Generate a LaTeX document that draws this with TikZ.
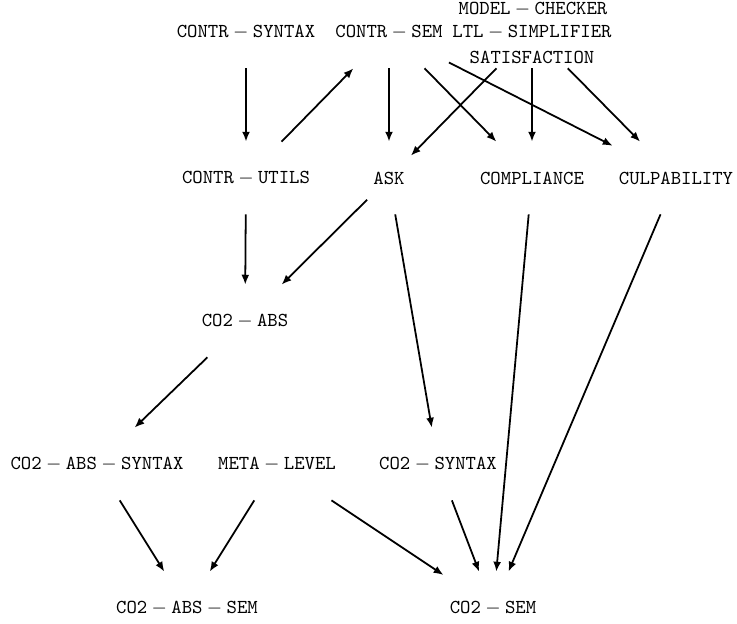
\documentclass[tikz,border=0pt]{standalone}
\usetikzlibrary{arrows.meta}
\begin{document}
\begin{tikzpicture}[x=0.506pt, y=-0.506pt,
    mod/.style={inner xsep=3pt, inner ysep=0pt, minimum height=36.4pt},
    dep/.style={-{Latex[length=5pt, width=4pt]}, line width=0.9pt}]
    \useasboundingbox (0,0) rectangle (737,624);

    \node[inner sep=0pt] (mcheck) at (533,9) {$\mathtt{MODEL-CHECKER}$};
    \node[inner sep=0pt] (ltl) at (532,32) {$\mathtt{LTL-SIMPLIFIER}$};
    \node[mod] (csyn) at (246,32) {$\mathtt{CONTR-SYNTAX}$};
    \node[mod] (csem) at (389,32) {$\mathtt{CONTR-SEM}$};
    \node[mod, text height=32pt, text depth=0pt] (sat) at (532,32) {$\mathtt{SATISFACTION}$};

    \node[mod] (cutil) at (246,178) {$\mathtt{CONTR-UTILS}$};
    \node[mod] (ask) at (389,178) {$\mathtt{ASK}$};
    \node[mod] (comp) at (532,178) {$\mathtt{COMPLIANCE}$};
    \node[mod] (culp) at (676,178) {$\mathtt{CULPABILITY}$};

    \node[mod] (abs) at (245,321) {$\mathtt{CO2-ABS}$};

    \node[mod] (abssyn) at (97,464) {$\mathtt{CO2-ABS-SYNTAX}$};
    \node[mod] (meta) at (277,464) {$\mathtt{META-LEVEL}$};
    \node[mod] (syn) at (438,464) {$\mathtt{CO2-SYNTAX}$};

    \node[mod] (abssem) at (187,608) {$\mathtt{CO2-ABS-SEM}$};
    \node[mod] (sem) at (493,608) {$\mathtt{CO2-SEM}$};

    \draw[dep] (csyn) -- (cutil);
    \draw[dep] (cutil) -- (csem);
    \draw[dep] (csem) -- (ask);
    \draw[dep] (csem) -- (comp);
    \draw[dep] (csem) -- (culp);
    \draw[dep] (sat) -- (ask);
    \draw[dep] (sat) -- (comp);
    \draw[dep] (sat) -- (culp);

    \draw[dep] (cutil) -- (abs);
    \draw[dep] (ask) -- (abs);
    \draw[dep] (ask) -- (syn);
    \draw[dep] (comp) -- (sem);
    \draw[dep] (culp) -- (sem);

    \draw[dep] (abs) -- (abssyn);
    \draw[dep] (abssyn) -- (abssem);
    \draw[dep] (meta) -- (abssem);
    \draw[dep] (meta) -- (sem);
    \draw[dep] (syn) -- (sem);
\end{tikzpicture}
\end{document}
